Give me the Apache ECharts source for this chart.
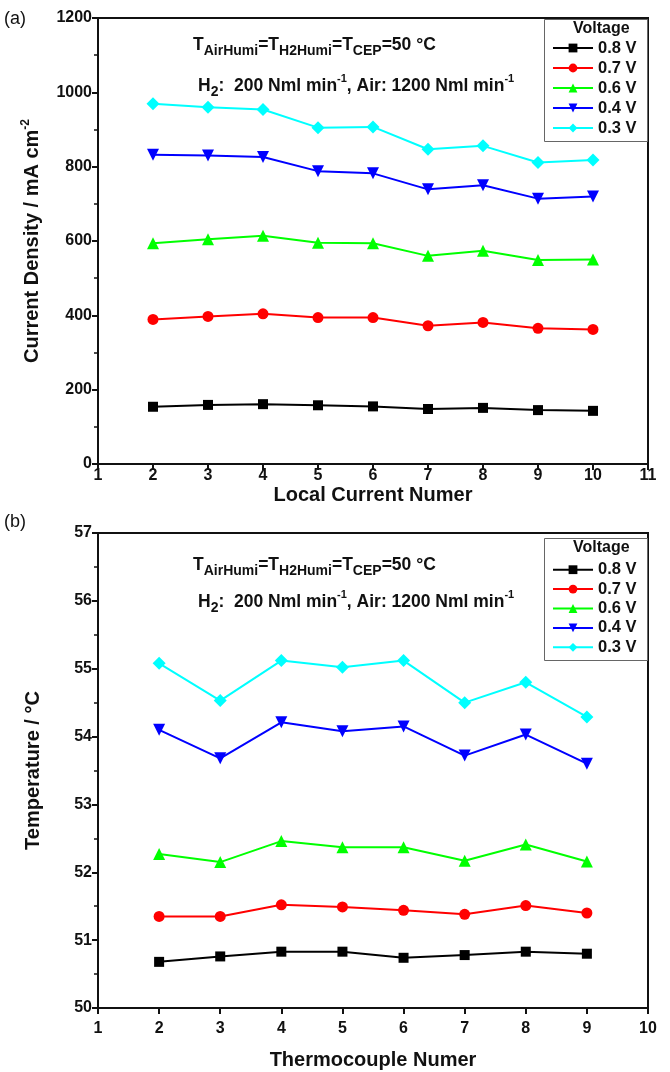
<!DOCTYPE html>
<html>
<head>
<meta charset="utf-8">
<script src="https://cdn.jsdelivr.net/npm/echarts@6/dist/echarts.min.js"></script>
<style>
  html, body { margin: 0; padding: 0; background: #fff; }
  #chart { width: 670px; height: 1072px; }
</style>
</head>
<body>
<div id="chart"></div>
<script>
// voltage levels shown in both panels
const voltages = ['0.8 V', '0.7 V', '0.6 V', '0.4 V', '0.3 V']
const colors = ['#000000', '#ff0000', '#00ff00', '#0000ff', '#00ffff']

// (a) local current density per segment
const currentSegments = [2, 3, 4, 5, 6, 7, 8, 9, 10]
const current08 = [154, 159, 161, 158, 155, 148, 151, 145, 143]
const current07 = [389, 397, 404, 394, 394, 372, 381, 365, 362]
const current06 = [594, 605, 614, 595, 594, 560, 574, 549, 550]
const current04 = [832, 830, 826, 788, 782, 739, 750, 714, 720]
const current03 = [969, 960, 954, 905, 907, 847, 856, 811, 818]

// (b) thermocouple temperatures
const thermoPoints = [2, 3, 4, 5, 6, 7, 8, 9]
const temp08 = [50.68, 50.76, 50.83, 50.83, 50.74, 50.78, 50.83, 50.80]
const temp07 = [51.35, 51.35, 51.52, 51.49, 51.44, 51.38, 51.51, 51.40]
const temp06 = [52.27, 52.15, 52.46, 52.37, 52.37, 52.17, 52.41, 52.16]
const temp04 = [54.10, 53.68, 54.21, 54.08, 54.15, 53.72, 54.03, 53.60]
const temp03 = [55.08, 54.53, 55.12, 55.02, 55.12, 54.50, 54.80, 54.29]

const currentSets = [current08, current07, current06, current04, current03]
const tempSets = [temp08, temp07, temp06, temp04, temp03]

const symbols = ['rect', 'circle', 'triangle', 'triangle', 'diamond']
const symbolRotates = [0, 0, 0, 180, 0]
const symbolSizes = [10, 11, 12, 12, 13]

const FONT = 'Liberation Sans, Arial, sans-serif'

const chart = echarts.init(document.getElementById('chart'), null, { renderer: 'canvas' })

function makeSeries(xs, sets, axisIndex) {
  return sets.map((vals, i) => ({
    name: voltages[i],
    type: 'line',
    xAxisIndex: axisIndex,
    yAxisIndex: axisIndex,
    data: xs.map((x, j) => [x, vals[j]]),
    symbol: symbols[i],
    symbolRotate: symbolRotates[i],
    symbolSize: symbolSizes[i],
    itemStyle: { color: colors[i] },
    lineStyle: { color: colors[i], width: 2 },
    z: 3 + i,
  }))
}

const tickLabel = { color: '#111', fontSize: 16, fontWeight: 'bold', fontFamily: FONT, formatter: v => String(v) }
const axisNameStyle = { color: '#111', fontSize: 20, fontWeight: 'bold', fontFamily: FONT }
const axisLine = { show: true, lineStyle: { color: '#111', width: 2 } }
const tick = { show: true, inside: false, length: 6, lineStyle: { color: '#111', width: 2 } }
const minorTick = { show: true, splitNumber: 2, length: 4, lineStyle: { color: '#111', width: 1.5 } }

function annotation(top, gap) {
  const rich = {
    n: { fontSize: 17.5, fontWeight: 'bold', fontFamily: FONT, fill: '#111', lineHeight: 26 },
    sub: { fontSize: 14, fontWeight: 'bold', fontFamily: FONT, fill: '#111', verticalAlign: 'bottom' },
    sup: { fontSize: 11, fontWeight: 'bold', fontFamily: FONT, fill: '#111', verticalAlign: 'top' },
  }
  return [
    {
      type: 'text', left: 193, top: top,
      style: {
        text: '{n|T}{sub|AirHumi}{n|=T}{sub|H2Humi}{n|=T}{sub|CEP}{n|=50 °C}',
        rich: rich,
      },
    },
    {
      type: 'text', left: 198, top: top + gap,
      style: {
        text: '{n|H}{sub|2}{n|:  200 Nml min}{sup|-1}{n|, Air: 1200 Nml min}{sup|-1}',
        rich: rich,
      },
    },
  ]
}

function legendBox(top) {
  return [
    {
      type: 'rect', left: 544, top: top,
      shape: { x: 0, y: 0, width: 103, height: 122 },
      style: { fill: '#fff', stroke: '#666', lineWidth: 1 },
      z: 10,
    },
    {
      type: 'text', left: 573, top: top + 2,
      style: { text: 'Voltage', fontSize: 16, fontWeight: 'bold', fontFamily: FONT, fill: '#111' },
      z: 11,
    },
  ]
}

const legendCommon = {
  orient: 'vertical',
  left: 552,
  itemWidth: 40,
  itemHeight: 11,
  itemGap: 0,
  padding: 0,
  textStyle: { color: '#111', fontSize: 16.5, fontWeight: 'bold', fontFamily: FONT, lineHeight: 20, padding: [0, 0, 0, 0] },
  data: voltages,
  selectedMode: false,
  z: 12,
}

chart.setOption({
  animation: false,
  backgroundColor: '#fff',
  grid: [
    { left: 98, top: 18, width: 550, height: 446, show: true, borderColor: '#111', borderWidth: 2, backgroundColor: 'transparent' },
    { left: 98, top: 533, width: 550, height: 475, show: true, borderColor: '#111', borderWidth: 2, backgroundColor: 'transparent' },
  ],
  legend: [
    Object.assign({}, legendCommon, { top: 38 }),
    Object.assign({}, legendCommon, { top: 560, textStyle: Object.assign({}, legendCommon.textStyle, { lineHeight: 19.4 }) }),
  ],
  xAxis: [
    {
      type: 'value', gridIndex: 0, min: 1, max: 11, interval: 1,
      name: 'Local Current Numer', nameLocation: 'middle', nameGap: 21, nameTextStyle: axisNameStyle,
      axisLine, axisTick: tick, axisLabel: Object.assign({ margin: 4 }, tickLabel), splitLine: { show: false },
    },
    {
      type: 'value', gridIndex: 1, min: 1, max: 10, interval: 1,
      name: 'Thermocouple Numer', nameLocation: 'middle', nameGap: 42,
      nameTextStyle: Object.assign({}, axisNameStyle, { fontWeight: 600 }),
      axisLine, axisTick: tick, axisLabel: Object.assign({ margin: 13 }, tickLabel), splitLine: { show: false },
    },
  ],
  yAxis: [
    {
      type: 'value', gridIndex: 0, min: 0, max: 1200, interval: 200,
      name: 'Current Density / mA cm{sup|-2}', nameLocation: 'middle', nameGap: 46,
      nameTextStyle: Object.assign({ lineHeight: 26, rich: { sup: { fontSize: 12, fontWeight: 'bold', fontFamily: FONT, color: '#111', verticalAlign: 'top' } } }, axisNameStyle),
      axisLine, axisTick: tick, minorTick, axisLabel: Object.assign({ margin: 6 }, tickLabel), splitLine: { show: false },
    },
    {
      type: 'value', gridIndex: 1, min: 50, max: 57, interval: 1,
      name: 'Temperature / °C', nameLocation: 'middle', nameGap: 55,
      nameTextStyle: Object.assign({}, axisNameStyle, { fontWeight: 600 }),
      axisLine, axisTick: tick, minorTick, axisLabel: Object.assign({ margin: 6 }, tickLabel), splitLine: { show: false },
    },
  ],
  graphic: [
    { type: 'text', left: 4, top: 10, style: { text: '(a)', fontSize: 18, fontFamily: FONT, fill: '#111' } },
    { type: 'text', left: 4, top: 513, style: { text: '(b)', fontSize: 18, fontFamily: FONT, fill: '#111' } },
    ...annotation(36, 37),
    ...annotation(556, 33),
    ...legendBox(19),
    ...legendBox(538),
  ],
  series: [
    ...makeSeries(currentSegments, currentSets, 0),
    ...makeSeries(thermoPoints, tempSets, 1),
  ],
})
</script>
</body>
</html>
